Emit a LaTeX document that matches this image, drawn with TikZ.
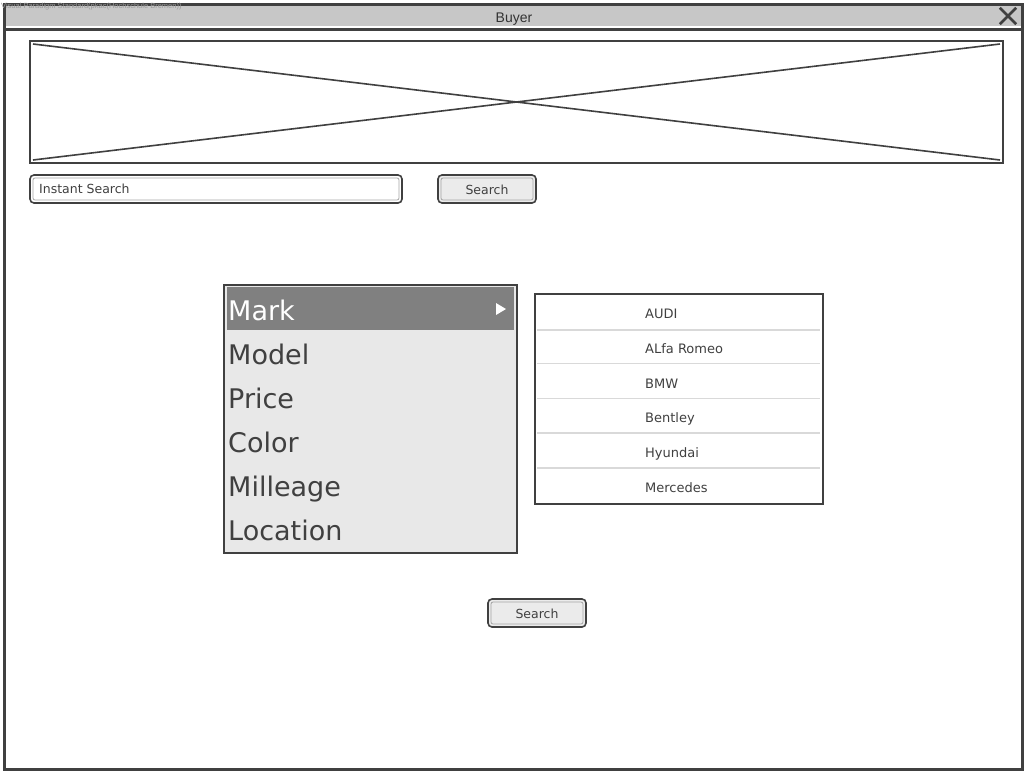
\documentclass[tikz,border=0pt]{standalone}
\usepackage{fontspec}
\setmainfont{DejaVu Sans}
\newfontfamily\hdrfont{Liberation Sans}
\begin{document}
\begin{tikzpicture}[x=1pt,y=-1pt,
  frame/.style={draw=black!75,line width=3pt},
  ink/.style={draw=black!75,line width=2pt},
  btn/.style={draw=black!75,line width=1.6pt,rounded corners=4pt,fill=black!8},
  btninner/.style={draw=black!35,line width=0.8pt,rounded corners=2pt},
  btntxt/.style={font=\fontsize{12.5}{12.5}\selectfont,text=black!75,inner sep=0pt,anchor=base},
  itemtxt/.style={font=\fontsize{27}{27}\selectfont,text=black!75,anchor=base west,inner sep=0pt},
  listtxt/.style={font=\fontsize{13}{13}\selectfont,text=black!75,anchor=base west,inner sep=0pt},
  sep/.style={draw=black!15,line width=1.5pt}]
\useasboundingbox (0,0) rectangle (1030,774);
\fill[white] (0,0) rectangle (1030,774);
% outer window
\fill[black!22] (6,6) rectangle (1021,26);
\draw[frame] (4.5,4.5) rectangle (1022.5,769);
\draw[frame] (4.5,29) -- (1022.5,29);
\node[font=\hdrfont\fontsize{7.5}{7.5}\selectfont,text=black!40,anchor=north west,inner sep=0pt] (wm) at (1,3) {Visual Paradigm Standard(pkac(Hochschule Bremen))};
\node[font=\hdrfont\fontsize{14}{14}\selectfont,text=black!80,inner sep=0pt,anchor=base] (title) at (514,22) {Buyer};
\node[inner sep=0pt,minimum size=16pt] (close) at (1008,16) {};
\draw[black!75,line width=2.5pt] (close.north west) -- (close.south east) (close.north east) -- (close.south west);
% image placeholder
\draw[ink] (30,41) rectangle (1003,163);
\draw[black!75,line width=1.6pt] (33,44) -- (1000,160) (33,160) -- (1000,44);
% instant search field
\draw[btn,fill=white] (30,175) rectangle (402,203);
\draw[btninner] (33,178) rectangle (399,200);
\node[btntxt,anchor=base west] (inst) at (39,193) {Instant Search};
% search button
\draw[btn] (438,175) rectangle (536,203);
\draw[btninner] (441,178) rectangle (533,200);
\node[btntxt] (s1) at (487,194) {Search};
% menu
\draw[ink,fill=black!9] (224,284.5) rectangle (517,552.5);
\fill[black!50] (227,287) rectangle (514,330);
\node[itemtxt,text=white] (mark) at (228,320) {Mark};
\fill[white] (496,303) -- (506,309) -- (496,315) -- cycle;
\node[itemtxt] (model) at (228,364) {Model};
\node[itemtxt] (price) at (228,408) {Price};
\node[itemtxt] (color) at (228,452) {Color};
\node[itemtxt] (mill) at (228,496) {Milleage};
\node[itemtxt] (loc) at (228,540) {Location};
% list
\draw[ink,fill=white] (534.5,294) rectangle (823,503.5);
\foreach \y in {330,363.5,398.5,433,468}{\draw[sep] (537,\y) -- (820,\y);}
\node[listtxt] (audi) at (645,318) {AUDI};
\node[listtxt] (alfa) at (645,353) {ALfa Romeo};
\node[listtxt] (bmw) at (645,388) {BMW};
\node[listtxt] (bent) at (645,422) {Bentley};
\node[listtxt] (hyun) at (645,457) {Hyundai};
\node[listtxt] (merc) at (645,492) {Mercedes};
% bottom search button
\draw[btn] (488,599) rectangle (586,627);
\draw[btninner] (491,602) rectangle (583,624);
\node[btntxt] (s2) at (537,618) {Search};
\end{tikzpicture}
\end{document}
